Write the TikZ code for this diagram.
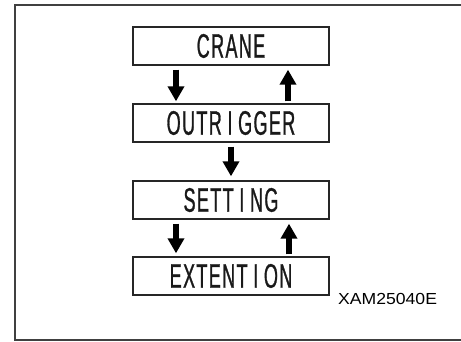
\documentclass[tikz,border=0pt]{standalone}
\usepackage{fontspec}
\usetikzlibrary{arrows.meta}
\newfontfamily\boxfont[FakeStretch=0.53,FakeBold=0.8,LetterSpace=4]{Liberation Sans}
\newfontfamily\labfont[FakeStretch=1.1]{Liberation Sans}
\newcommand{\bigboxtext}{\fontsize{34pt}{34pt}\boxfont}
\begin{document}
\begin{tikzpicture}[x=1pt,y=-1pt,
  stepbox/.style={draw=black!85,line width=1.4pt,minimum width=196pt,minimum height=38pt,
    inner sep=0pt,font=\bigboxtext,text=black!90},
  fatarrow/.style={draw=black,line width=6pt,-{Triangle[width=16pt,length=15pt]}}]
\useasboundingbox (0,0) rectangle (461,342);
\draw[black!75,line width=1.4pt] (463,5) -- (15,5) -- (15,340) -- (463,340);
\node[stepbox] (crane) at (231,46) {CRANE};
\node[stepbox] (outr) at (231,123) {OUTR\,I\,GGER};
\node[stepbox] (sett) at (231,200) {SETT\,I\,NG};
\node[stepbox] (ext) at (231,276) {EXTENT\,I\,ON};
\node[font=\labfont\fontsize{16}{16}\selectfont,anchor=west,inner sep=0pt] (code) at (338,299) {XAM25040E};
\draw[fatarrow,shorten <=4pt,shorten >=2pt] ([xshift=-55pt]crane.south) -- ([xshift=-55pt]outr.north);
\draw[fatarrow,shorten <=2pt,shorten >=4pt] ([xshift=57pt]outr.north) -- ([xshift=57pt]crane.south);
\draw[fatarrow,shorten <=4pt,shorten >=4pt] (outr.south) -- (sett.north);
\draw[fatarrow,shorten <=4pt,shorten >=3pt] ([xshift=-55pt]sett.south) -- ([xshift=-55pt]ext.north);
\draw[fatarrow,shorten <=2pt,shorten >=4pt] ([xshift=58pt]ext.north) -- ([xshift=58pt]sett.south);
\end{tikzpicture}
\end{document}
